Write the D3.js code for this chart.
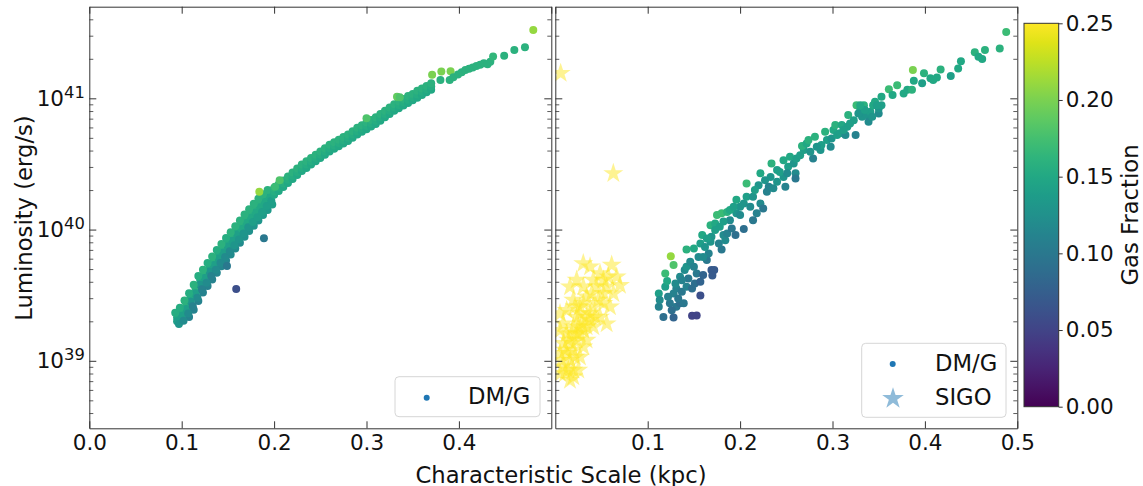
<!DOCTYPE html>
<html><head><meta charset="utf-8">
<script src="https://cdn.jsdelivr.net/npm/d3@7"></script>
<style>body{margin:0;background:#fff;} text{font-family:"DejaVu Sans",sans-serif;}</style>
</head><body>
<svg id="c" width="1143" height="486"></svg>
<script>
// ---------- data ----------
const xTicksLeft = [0, 0.1, 0.2, 0.3, 0.4];
const xTicksRight = [0.1, 0.2, 0.3, 0.4, 0.5];
const xTicksAll = [0, 0.1, 0.2, 0.3, 0.4, 0.5];
const xDomain = [0, 0.5];
const yDomain = [3.06e38, 4.99e41];
const yMajor = [1e39, 1e40, 1e41];
const yMinor = [4e38,5e38,6e38,7e38,8e38,9e38,2e39,3e39,4e39,5e39,6e39,7e39,8e39,9e39,
                2e40,3e40,4e40,5e40,6e40,7e40,8e40,9e40,2e41,3e41,4e41];
const cDomain = [0, 0.25];
const cbTicks = [0, 0.05, 0.10, 0.15, 0.20, 0.25];
const xLabel = "Characteristic Scale (kpc)";
const yLabel = "Luminosity (erg/s)";
const cLabel = "Gas Fraction";

// [scale (kpc), luminosity (erg/s), gas fraction]
const dmgLeft = [
// lower-right edge of the ribbon
[0.108,2.16e39,0.11],[0.113,2.45e39,0.11],[0.118,2.85e39,0.11],[0.123,3.31e39,0.11],
[0.128,3.72e39,0.11],[0.133,4.17e39,0.11],[0.138,4.68e39,0.115],[0.143,5.25e39,0.115],
[0.148,5.82e39,0.115],[0.153,6.46e39,0.12],[0.158,7.16e39,0.12],[0.163,7.94e39,0.12],
[0.168,8.81e39,0.125],[0.173,9.77e39,0.125],[0.178,1.07e40,0.13],[0.183,1.17e40,0.13],
[0.188,1.29e40,0.135],[0.193,1.41e40,0.135],[0.198,1.55e40,0.14],
// core of the ribbon
[0.095,2.14e39,0.15],[0.095,2.00e39,0.14],[0.097,1.91e39,0.13],
[0.100,2.37e39,0.15],[0.100,2.19e39,0.14],[0.102,2.02e39,0.12],
[0.105,2.69e39,0.16],[0.105,2.48e39,0.14],[0.107,2.29e39,0.12],
[0.110,3.05e39,0.15],[0.110,2.82e39,0.13],[0.112,2.60e39,0.11],
[0.115,3.55e39,0.16],[0.115,3.27e39,0.14],[0.117,3.02e39,0.12],
[0.120,4.12e39,0.15],[0.120,3.80e39,0.13],[0.122,3.51e39,0.11],
[0.125,4.62e39,0.16],[0.125,4.27e39,0.14],[0.127,3.94e39,0.12],
[0.130,5.19e39,0.15],[0.130,4.79e39,0.13],[0.132,4.42e39,0.11],
[0.135,5.82e39,0.16],[0.135,5.37e39,0.14],[0.137,4.95e39,0.12],
[0.140,6.53e39,0.15],[0.140,6.03e39,0.14],[0.142,5.56e39,0.12],
[0.145,7.24e39,0.16],[0.145,6.68e39,0.14],[0.147,6.17e39,0.12],
[0.150,8.04e39,0.15],[0.150,7.41e39,0.14],[0.152,6.84e39,0.12],
[0.155,8.91e39,0.16],[0.155,8.22e39,0.14],[0.157,7.59e39,0.13],
[0.160,9.89e39,0.15],[0.160,9.12e39,0.14],[0.162,8.41e39,0.13],
[0.165,1.10e40,0.16],[0.165,1.01e40,0.15],[0.167,9.33e39,0.13],
[0.170,1.22e40,0.16],[0.170,1.12e40,0.15],[0.172,1.04e40,0.13],
[0.175,1.33e40,0.16],[0.175,1.23e40,0.15],[0.177,1.14e40,0.14],
[0.180,1.46e40,0.16],[0.180,1.35e40,0.15],[0.182,1.24e40,0.14],
[0.185,1.60e40,0.16],[0.185,1.48e40,0.15],[0.187,1.36e40,0.14],
[0.190,1.74e40,0.16],[0.190,1.62e40,0.15],[0.192,1.51e40,0.14],
[0.195,1.88e40,0.16],[0.195,1.78e40,0.15],[0.197,1.66e40,0.14],
// upper-left edge of the ribbon
[0.093,2.32e39,0.155],[0.098,2.54e39,0.155],[0.103,2.88e39,0.16],[0.108,3.27e39,0.155],
[0.113,3.80e39,0.16],[0.118,4.42e39,0.155],[0.123,4.95e39,0.16],[0.128,5.56e39,0.155],
[0.133,6.24e39,0.16],[0.138,7.00e39,0.155],[0.143,7.76e39,0.16],[0.148,8.61e39,0.155],
[0.153,9.55e39,0.16],[0.158,1.06e40,0.16],[0.163,1.17e40,0.16],[0.168,1.30e40,0.16],
[0.173,1.43e40,0.16],[0.178,1.57e40,0.16],[0.183,1.72e40,0.16],[0.188,1.86e40,0.16],
[0.193,2.00e40,0.16],
// upper ribbon (three rows)
[0.200,1.84e40,0.15],[0.200,1.95e40,0.155],[0.200,2.07e40,0.16],
[0.205,1.97e40,0.15],[0.205,2.09e40,0.155],[0.205,2.21e40,0.16],
[0.210,2.11e40,0.15],[0.210,2.24e40,0.155],[0.210,2.37e40,0.16],
[0.215,2.26e40,0.15],[0.215,2.40e40,0.155],[0.215,2.54e40,0.16],
[0.220,2.43e40,0.15],[0.220,2.57e40,0.155],[0.220,2.72e40,0.16],
[0.225,2.60e40,0.15],[0.225,2.75e40,0.155],[0.225,2.92e40,0.16],
[0.230,2.79e40,0.15],[0.230,2.95e40,0.155],[0.230,3.13e40,0.16],
[0.235,2.95e40,0.15],[0.235,3.13e40,0.155],[0.235,3.31e40,0.16],
[0.240,3.13e40,0.15],[0.240,3.31e40,0.155],[0.240,3.51e40,0.16],
[0.245,3.31e40,0.15],[0.245,3.51e40,0.155],[0.245,3.72e40,0.16],
[0.250,3.51e40,0.15],[0.250,3.72e40,0.155],[0.250,3.94e40,0.16],
[0.255,3.72e40,0.15],[0.255,3.94e40,0.155],[0.255,4.17e40,0.16],
[0.260,3.94e40,0.15],[0.260,4.17e40,0.155],[0.260,4.42e40,0.16],
[0.265,4.12e40,0.15],[0.265,4.37e40,0.155],[0.265,4.62e40,0.16],
[0.270,4.32e40,0.15],[0.270,4.57e40,0.155],[0.270,4.84e40,0.16],
[0.275,4.52e40,0.15],[0.275,4.79e40,0.155],[0.275,5.07e40,0.16],
[0.280,4.73e40,0.15],[0.280,5.01e40,0.155],[0.280,5.31e40,0.16],
[0.285,5.01e40,0.15],[0.285,5.31e40,0.155],[0.285,5.62e40,0.16],
[0.290,5.31e40,0.15],[0.290,5.62e40,0.155],[0.290,5.96e40,0.16],
[0.295,5.56e40,0.15],[0.295,5.89e40,0.155],[0.295,6.24e40,0.16],
[0.300,5.82e40,0.15],[0.300,6.17e40,0.155],[0.300,6.53e40,0.16],
[0.305,6.10e40,0.15],[0.305,6.46e40,0.155],[0.305,6.84e40,0.16],
[0.310,6.38e40,0.15],[0.310,6.76e40,0.155],[0.310,7.16e40,0.16],
[0.315,6.76e40,0.15],[0.315,7.16e40,0.155],[0.315,7.59e40,0.16],
[0.320,7.16e40,0.15],[0.320,7.59e40,0.155],[0.320,8.04e40,0.16],
[0.325,7.59e40,0.15],[0.325,8.04e40,0.155],[0.325,8.51e40,0.16],
[0.330,8.04e40,0.15],[0.330,8.51e40,0.155],[0.330,9.02e40,0.16],
[0.335,8.41e40,0.15],[0.335,8.91e40,0.155],[0.335,9.44e40,0.16],
[0.340,8.81e40,0.15],[0.340,9.33e40,0.155],[0.340,9.89e40,0.16],
[0.345,9.23e40,0.15],[0.345,9.77e40,0.155],[0.345,1.04e41,0.16],
[0.350,9.66e40,0.15],[0.350,1.02e41,0.155],[0.350,1.08e41,0.16],
[0.355,1.01e41,0.15],[0.355,1.07e41,0.155],[0.355,1.14e41,0.16],
[0.360,1.06e41,0.15],[0.360,1.12e41,0.155],[0.360,1.19e41,0.16],
[0.365,1.11e41,0.15],[0.365,1.17e41,0.155],[0.365,1.24e41,0.16],
[0.370,1.16e41,0.15],[0.370,1.23e41,0.155],[0.370,1.30e41,0.16],
// sparse upper end and outliers
[0.371,1.51e41,0.20],[0.381,1.60e41,0.20],[0.391,1.61e41,0.20],
[0.380,1.38e41,0.16],[0.390,1.38e41,0.16],
[0.394,1.45e41,0.16],[0.399,1.52e41,0.16],[0.403,1.58e41,0.16],[0.407,1.64e41,0.16],
[0.411,1.68e41,0.16],[0.415,1.72e41,0.16],[0.419,1.76e41,0.16],[0.423,1.80e41,0.16],
[0.427,1.85e41,0.16],[0.431,1.82e41,0.16],[0.434,1.90e41,0.16],[0.437,2.08e41,0.165],
[0.449,2.11e41,0.16],[0.460,2.33e41,0.16],[0.4715,2.45e41,0.16],[0.4805,3.31e41,0.21],
[0.300,7.05e40,0.18],[0.333,1.03e41,0.19],[0.336,1.02e41,0.18],
[0.184,1.94e40,0.21],[0.206,2.38e40,0.18],[0.201,2.12e40,0.17],
[0.189,8.57e39,0.10],[0.159,3.52e39,0.06],[0.149,5.27e39,0.10]
];

const dmgRight = [
[0.117,2.16e39,0.09],[0.128,2.14e39,0.08],[0.148,2.20e39,0.05],[0.153,2.21e39,0.05],[0.157,3.15e39,0.06],
[0.112,3.26e39,0.14],[0.112,2.58e39,0.11],[0.119,3.66e39,0.14],[0.121,4.06e39,0.15],[0.119,4.62e39,0.17],
[0.128,5.36e39,0.18],[0.125,6.27e39,0.21],[0.124,2.74e39,0.10],[0.131,2.58e39,0.10],[0.135,2.74e39,0.09],
[0.139,2.74e39,0.10],[0.128,3.26e39,0.11],[0.131,3.56e39,0.11],[0.137,3.36e39,0.10],[0.142,3.66e39,0.11],
[0.130,3.88e39,0.12],[0.135,4.37e39,0.12],[0.140,4.91e39,0.12],[0.142,5.20e39,0.13],[0.146,5.68e39,0.12],
[0.148,3.56e39,0.09],[0.151,3.88e39,0.09],[0.157,4.00e39,0.08],[0.153,4.62e39,0.10],[0.160,4.50e39,0.08],
[0.169,4.91e39,0.07],[0.172,4.91e39,0.07],[0.170,4.47e39,0.07],[0.164,5.85e39,0.10],[0.166,6.58e39,0.11],
[0.160,6.19e39,0.12],[0.142,7.05e39,0.16],[0.150,7.18e39,0.15],[0.157,7.83e39,0.14],[0.159,9.08e39,0.15],
[0.168,1.08e40,0.16],[0.173,1.11e40,0.15],[0.178,1.05e40,0.14],[0.175,1.29e40,0.17],[0.180,1.33e40,0.17],
[0.186,1.36e40,0.16],[0.180,7.05e39,0.10],[0.177,7.83e39,0.11],[0.184,8.30e39,0.12],[0.182,9.08e39,0.12],
[0.186,9.33e39,0.11],[0.169,8.81e39,0.13],[0.173,9.91e39,0.14],[0.168,8.07e39,0.13],[0.191,1.02e40,0.10],
[0.195,9.08e39,0.09],[0.204,1.01e40,0.09],[0.189,1.18e40,0.12],[0.196,1.33e40,0.13],[0.200,1.49e40,0.13],
[0.196,1.69e40,0.15],[0.204,1.58e40,0.13],[0.207,1.78e40,0.14],[0.211,1.49e40,0.12],[0.214,1.18e40,0.10],
[0.218,1.33e40,0.11],[0.222,1.58e40,0.12],[0.225,1.45e40,0.10],[0.207,2.24e40,0.17],[0.220,2.18e40,0.13],
[0.227,2.38e40,0.13],[0.222,2.68e40,0.15],[0.231,2.12e40,0.11],[0.229,1.94e40,0.11],[0.236,2.06e40,0.12],
[0.240,2.31e40,0.13],[0.234,3.19e40,0.16],[0.240,2.84e40,0.14],[0.247,2.52e40,0.13],[0.249,2.12e40,0.11],
[0.252,3.01e40,0.14],[0.247,3.38e40,0.15],[0.254,3.59e40,0.15],[0.260,2.68e40,0.12],[0.260,2.45e40,0.10],
[0.258,3.19e40,0.13],[0.261,3.48e40,0.14],[0.265,3.69e40,0.14],[0.269,4.03e40,0.14],[0.267,4.33e40,0.16],
[0.272,4.53e40,0.15],[0.274,4.81e40,0.16],[0.279,3.48e40,0.11],[0.281,5.09e40,0.16],[0.287,4.03e40,0.13],
[0.288,4.41e40,0.14],[0.292,5.56e40,0.16],[0.294,4.81e40,0.14],[0.298,4.28e40,0.12],[0.299,4.94e40,0.13],
[0.301,5.73e40,0.15],[0.303,6.25e40,0.16],[0.305,5.25e40,0.14],[0.308,5.41e40,0.14],[0.310,6.25e40,0.15],
[0.314,5.25e40,0.12],[0.316,6.07e40,0.14],[0.317,7.45e40,0.16],[0.323,6.82e40,0.14],[0.325,5.25e40,0.11],
[0.326,8.87e40,0.17],[0.330,8.13e40,0.15],[0.332,7.24e40,0.13],[0.334,8.87e40,0.16],[0.337,7.45e40,0.13],
[0.339,6.62e40,0.12],[0.341,7.91e40,0.14],[0.344,8.87e40,0.15],[0.346,9.42e40,0.15],[0.350,7.67e40,0.12],
[0.350,8.38e40,0.13],[0.353,8.87e40,0.14],[0.353,1.03e41,0.15],[0.361,1.17e41,0.17],[0.365,1.06e41,0.15],
[0.370,1.26e41,0.17],[0.377,1.09e41,0.15],[0.381,1.16e41,0.15],[0.386,1.16e41,0.16],[0.388,1.36e41,0.15],
[0.387,1.64e41,0.20],[0.397,1.30e41,0.14],[0.399,1.55e41,0.16],[0.406,1.42e41,0.15],[0.409,1.38e41,0.15],
[0.413,1.44e41,0.15],[0.417,1.66e41,0.16],[0.428,1.48e41,0.14],[0.436,1.69e41,0.15],[0.439,1.92e41,0.15],
[0.454,2.24e41,0.16],[0.458,2.07e41,0.15],[0.462,1.99e41,0.15],[0.465,2.33e41,0.16],[0.481,2.40e41,0.16],
[0.488,3.20e41,0.17],
[0.122,3.07e39,0.11],[0.126,2.43e39,0.09],[0.133,2.99e39,0.10],[0.113,2.90e39,0.12],[0.144,4.24e39,0.10],
[0.137,4.11e39,0.11],[0.150,5.20e39,0.11],[0.155,6.19e39,0.12],[0.162,7.38e39,0.13],[0.164,8.55e39,0.14],
[0.182,1.15e40,0.14],[0.189,1.41e40,0.15],[0.193,1.49e40,0.14],[0.200,1.29e40,0.12],[0.214,1.78e40,0.13],
[0.216,2.00e40,0.14],[0.233,2.52e40,0.13],[0.243,2.75e40,0.14],[0.251,2.68e40,0.12],[0.276,3.92e40,0.13],
[0.283,4.28e40,0.13],[0.312,5.73e40,0.14],[0.319,6.44e40,0.14],[0.328,7.67e40,0.13],[0.335,8.13e40,0.14],
[0.343,7.24e40,0.13],[0.348,8.87e40,0.14],[0.330,8.87e40,0.15]
];

// SIGO: [scale (kpc), luminosity (erg/s), gas fraction]
const sigo = [
[0.0058,1.55e41,0.25],[0.0628,2.68e40,0.25],
[0.0303,5.52e39,0.25],[0.0376,5.20e39,0.25],[0.0610,5.36e39,0.25],[0.0700,3.77e39,0.25],
[0.0231,4.12e39,0.25],[0.0159,3.66e39,0.25],[0.0303,3.66e39,0.25],[0.0412,4.12e39,0.25],
[0.0556,3.66e39,0.25],[0.0628,3.26e39,0.25],[0.0195,2.90e39,0.25],[0.0303,2.74e39,0.25],
[0.0412,2.58e39,0.25],[0.0520,2.74e39,0.25],[0.0592,2.58e39,0.25],[0.0123,2.43e39,0.25],
[0.0231,2.16e39,0.25],[0.0339,2.16e39,0.25],[0.0484,2.16e39,0.25],[0.0556,1.92e39,0.25],
[0.0087,1.92e39,0.25],[0.0195,1.82e39,0.25],[0.0303,1.71e39,0.25],[0.0412,1.82e39,0.25],
[0.0123,1.61e39,0.25],[0.0231,1.44e39,0.25],[0.0339,1.44e39,0.25],[0.0087,1.36e39,0.25],
[0.0195,1.21e39,0.25],[0.0303,1.28e39,0.25],[0.0051,1.14e39,0.25],[0.0159,1.01e39,0.25],
[0.0267,1.07e39,0.25],[0.0087,9.0e38,0.25],[0.0195,8.5e38,0.25],[0.0051,8.0e38,0.25],
[0.0159,7.1e38,0.25],[0.0105,8.0e38,0.25],[0.0267,1.61e39,0.25],[0.0376,2.04e39,0.25],
[0.0520,3.26e39,0.25],[0.0466,2.90e39,0.25],[0.0574,4.37e39,0.25],
[0.0141,1.44e39,0.25],[0.0177,1.61e39,0.25],[0.0249,1.82e39,0.25],[0.0105,1.21e39,0.25],
[0.0213,1.07e39,0.25],[0.0141,8.5e38,0.25],[0.0267,2.29e39,0.25],[0.0213,2.58e39,0.25],
[0.0069,1.01e39,0.25],[0.0123,1.14e39,0.25],[0.0177,1.36e39,0.25],[0.0231,1.61e39,0.25],
[0.0285,1.92e39,0.25],[0.0339,1.82e39,0.25],[0.0376,2.29e39,0.25],[0.0430,2.16e39,0.25],
[0.0267,2.58e39,0.25],[0.0339,3.08e39,0.25],[0.0394,3.26e39,0.25],[0.0448,3.66e39,0.25],
[0.0484,4.63e39,0.25],[0.0520,4.12e39,0.25],[0.0664,4.37e39,0.25],[0.0249,8.5e38,0.25],
[0.0195,7.55e38,0.25],[0.0051,1.71e39,0.25],[0.0051,2.29e39,0.25]
];

// ---------- layout ----------
const FS = 21.5;      // tick labels
const LFS = 22.7;     // axis labels, legend
const AX = "#333";
const yTop = 6.7, yBot = 428.3;
const leftX = [89.3, 551.3], rightX = [555.3, 1017.3];
const cb = {x0: 1024, x1: 1058.7, y0: 23.3, y1: 406.7};

const svg = d3.select("#c");
const defs = svg.append("defs");
const y = d3.scaleLog().domain(yDomain).range([yBot, yTop]);
const color = d3.scaleSequential(d3.interpolateViridis).domain(cDomain);
const dotColor = "#1f77b4";

function styleAxis(g, fontSize) {
  g.attr("font-family", "DejaVu Sans, sans-serif").attr("font-size", fontSize || FS);
  g.selectAll("path.domain").attr("stroke", AX).attr("stroke-width", 1);
  g.selectAll(".tick line").attr("stroke", AX).attr("stroke-width", 1);
  g.selectAll(".tick text").attr("fill", "#111");
}

function panel(range, id, xTickLabels, withYLabels, drawPoints) {
  const x = d3.scaleLinear().domain(xDomain).range(range);
  defs.append("clipPath").attr("id", id).append("rect")
    .attr("x", range[0]).attr("y", yTop).attr("width", range[1] - range[0]).attr("height", yBot - yTop);
  const plot = svg.append("g").attr("clip-path", `url(#${id})`);
  drawPoints(plot, x);

  svg.append("g").attr("transform", `translate(${range[0]},0)`)
    .call(d3.axisLeft(y).tickValues(yMinor).tickSize(-4).tickSizeOuter(0).tickFormat(""))
    .call(g => { styleAxis(g); g.select(".domain").remove(); g.selectAll(".tick line").attr("stroke-width", 0.8); });
  svg.append("g").attr("transform", `translate(${range[1]},0)`)
    .call(d3.axisRight(y).tickValues(yMinor).tickSize(-4).tickSizeOuter(0).tickFormat(""))
    .call(g => { styleAxis(g); g.select(".domain").remove(); g.selectAll(".tick line").attr("stroke-width", 0.8); });

  const la = svg.append("g").attr("transform", `translate(${range[0]},0)`)
    .call(d3.axisLeft(y).tickValues(yMajor).tickSize(-7).tickSizeOuter(0).tickPadding(4.5));
  styleAxis(la);
  la.selectAll(".tick text").each(function(d) {
    const t = d3.select(this);
    t.text(null);
    if (!withYLabels) return;
    t.append("tspan").text("10");
    t.append("tspan").attr("font-size", "0.76em").attr("dy", "-0.5em").text(Math.round(Math.log10(d)));
  });
  const ra = svg.append("g").attr("transform", `translate(${range[1]},0)`)
    .call(d3.axisRight(y).tickValues(yMajor).tickSize(-7).tickSizeOuter(0).tickFormat(""));
  styleAxis(ra);

  const ba = svg.append("g").attr("transform", `translate(0,${yBot})`)
    .call(d3.axisBottom(x).tickValues(xTickLabels).tickSize(-7).tickSizeOuter(0).tickPadding(6).tickFormat(d3.format(".1f")));
  styleAxis(ba);
  const ta = svg.append("g").attr("transform", `translate(0,${yTop})`)
    .call(d3.axisTop(x).tickValues(xTicksAll).tickSize(-7).tickSizeOuter(0).tickFormat(""));
  styleAxis(ta);
  return x;
}

panel(leftX, "clipL", xTicksLeft, true, (plot, x) => {
  plot.selectAll("circle").data(dmgLeft).join("circle")
    .attr("cx", d => x(d[0])).attr("cy", d => y(d[1])).attr("r", 4)
    .attr("fill", d => color(d[2]));
});

panel(rightX, "clipR", xTicksRight, false, (plot, x) => {
  plot.selectAll("circle").data(dmgRight).join("circle")
    .attr("cx", d => x(d[0])).attr("cy", d => y(d[1])).attr("r", 4)
    .attr("fill", d => color(d[2]));
  plot.selectAll("path.star").data(sigo).join("path").attr("class", "star")
    .attr("d", d3.symbol().type(d3.symbolStar).size(124))
    .attr("transform", d => `translate(${x(d[0])},${y(d[1])})`)
    .attr("fill", d => color(d[2])).attr("fill-opacity", 0.5);
});

function legendBox(x, yy, w, h) {
  svg.append("rect").attr("x", x).attr("y", yy).attr("width", w).attr("height", h)
    .attr("rx", 4).attr("fill", "#fff").attr("fill-opacity", 0.8)
    .attr("stroke", "#d6d6d6").attr("stroke-width", 1);
}
legendBox(395, 376.7, 145, 40);
svg.append("circle").attr("cx", 426.7).attr("cy", 397.7).attr("r", 3).attr("fill", dotColor);
svg.append("text").attr("x", 468).attr("y", 404).attr("font-size", LFS).attr("fill", "#111").text("DM/G");

legendBox(861.7, 343.3, 144.3, 74);
svg.append("circle").attr("cx", 892.7).attr("cy", 364).attr("r", 3).attr("fill", dotColor);
svg.append("text").attr("x", 935).attr("y", 370.5).attr("font-size", LFS).attr("fill", "#111").text("DM/G");
svg.append("path").attr("d", d3.symbol().type(d3.symbolStar).size(145))
  .attr("transform", "translate(893,398.5)").attr("fill", dotColor).attr("fill-opacity", 0.5);
svg.append("text").attr("x", 935).attr("y", 404.5).attr("font-size", LFS).attr("fill", "#111").text("SIGO");

svg.append("text").attr("x", 561).attr("y", 482.5).attr("text-anchor", "middle")
  .attr("font-size", LFS).attr("fill", "#111").text(xLabel);
svg.append("text").attr("transform", "translate(31.5,218) rotate(-90)").attr("text-anchor", "middle")
  .attr("font-size", LFS).attr("fill", "#111").text(yLabel);

const grad = defs.append("linearGradient").attr("id", "vir").attr("x1", 0).attr("y1", 1).attr("x2", 0).attr("y2", 0);
d3.range(0, 1.0001, 0.05).forEach(t => grad.append("stop").attr("offset", t).attr("stop-color", d3.interpolateViridis(t)));
svg.append("rect").attr("x", cb.x0).attr("y", cb.y0).attr("width", cb.x1 - cb.x0).attr("height", cb.y1 - cb.y0)
  .attr("fill", "url(#vir)").attr("stroke", AX).attr("stroke-width", 1);
const cScale = d3.scaleLinear().domain(cDomain).range([cb.y1, cb.y0]);
const ca = svg.append("g").attr("transform", `translate(${cb.x1},0)`)
  .call(d3.axisRight(cScale).tickValues(cbTicks).tickSize(4).tickSizeOuter(0).tickPadding(3).tickFormat(d3.format(".2f")));
styleAxis(ca);
ca.select(".domain").remove();
svg.append("text").attr("transform", "translate(1138,215) rotate(-90)").attr("text-anchor", "middle")
  .attr("font-size", LFS).attr("fill", "#111").text(cLabel);
</script>
</body></html>
